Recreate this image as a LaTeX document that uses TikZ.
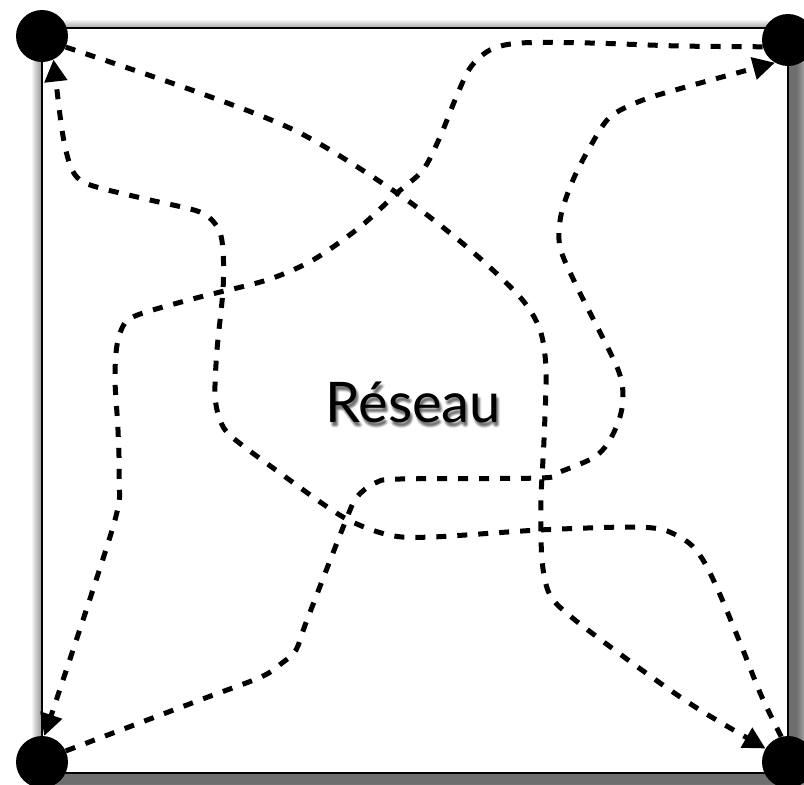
\documentclass[tikz,border=0pt]{standalone}
\usepackage{fontspec}
\setmainfont{Lato}
\usetikzlibrary{arrows.meta}
\begin{document}
\begin{tikzpicture}[x=1pt,y=-1pt,
  dot/.style={circle,fill=black,inner sep=0pt,minimum size=52pt},
  conn/.style={line width=5pt,dash pattern=on 10pt off 11pt,
    -{Triangle[length=22pt,width=22pt]}},
  frame/.style={fill=white,draw=black,line width=2.2pt},
  lbl/.style={font=\fontsize{56}{60}\selectfont,anchor=base,inner sep=0pt}]
\useasboundingbox (0,0) rectangle (804,785);
\fill[white] (0,0) rectangle (804,785);
% drop shadow of the frame
\foreach \k in {1,...,18} {
  \fill[black,opacity=0.045] (50-\k,38-\k) rectangle (796+\k,783+\k);
}
\draw[frame] (42,28) rectangle (788,773);
% label with soft shadow
\foreach \dx/\dy [count=\i] in {1/3,2/3,3/3,1/4,2/4,3/4,1/5,2/5,3/5,2/2,2/6,0/4,4/4} {
  \node[lbl,text=black,opacity=0.06] (sh\i) at (413+\dx,422+\dy) {Réseau};
}
\node[lbl] (reseau) at (413,422) {Réseau};
% corner nodes
\node[dot] (tl) at (42,36) {};
\node[dot] (tr) at (788,40) {};
\node[dot] (bl) at (42,762) {};
\node[dot] (br) at (788,762) {};
% A: top-left -> bottom-right
\draw[conn] plot[smooth,tension=0.5] coordinates {(tl.-25) (200,93) (300,133) (397,193) (467,247) (520,297) (540,330) (546,370) (544,440) (541,500) (542,560) (550,595) (575,620) (646,673) (700,710) (br.149)};
% B: top-right -> bottom-left
\draw[conn] plot[smooth,tension=0.5] coordinates {(tr.195) (680,46) (590,43) (520,43) (490,50) (470,68) (455,100) (440,137) (423,170) (397,193) (360,227) (313,260) (267,280) (200,297) (143,313) (125,323) (117,345) (115,380) (118,430) (119,480) (113,527) (bl.85)};
% C: bottom-left -> top-right
\draw[conn] plot[smooth,tension=0.5] coordinates {(bl.25) (200,700) (261,677) (282,663) (296,650) (307,620) (346,520) (357,497) (375,483) (400,479) (540,478) (557,473) (593,458) (608,443) (619,420) (623,397) (617,367) (577,287) (560,247) (561,215) (573,180) (590,147) (610,117) (643,100) (693,85) (tr.240)};
% D: bottom-right -> top-left
\draw[conn] plot[smooth,tension=0.5] coordinates {(br.105) (761,695) (741,645) (718,590) (703,560) (689,543) (664,530) (629,527) (539,530) (432,537) (389,535) (343,517) (280,473) (232,437) (220,420) (215,395) (217,350) (223,290) (223,250) (218,228) (200,212) (150,200) (100,188) (80,180) (70,165) (62,130) (tl.-64)};
\end{tikzpicture}
\end{document}
